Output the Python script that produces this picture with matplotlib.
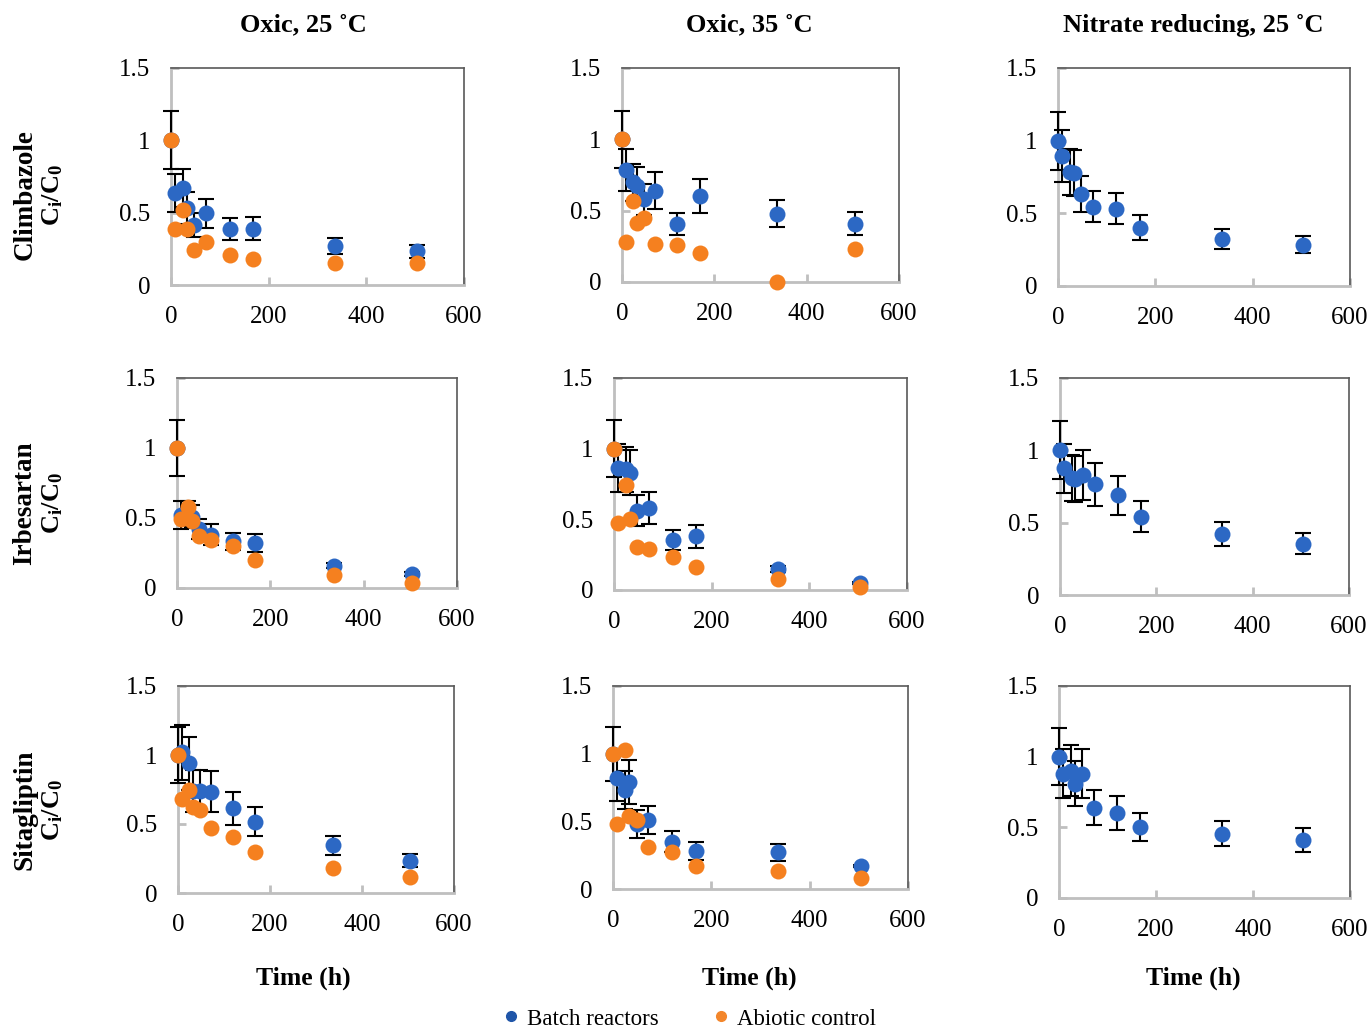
import matplotlib
matplotlib.use("Agg")
import matplotlib.pyplot as plt
from matplotlib.lines import Line2D
from matplotlib.ticker import FuncFormatter

plt.rcParams['font.family'] = ['Liberation Serif', 'DejaVu Serif']
plt.rcParams['mathtext.fontset'] = 'custom'
plt.rcParams['mathtext.rm'] = 'Liberation Serif'
plt.rcParams['mathtext.it'] = 'Liberation Serif:italic'
plt.rcParams['mathtext.bf'] = 'Liberation Serif:bold'

# ---------------- data ----------------
time_h = [0, 8, 24, 32, 48, 72, 120, 168, 336, 504]

col_titles = ["Oxic, 25 \u02daC", "Oxic, 35 \u02daC", "Nitrate reducing, 25 \u02daC"]
compounds = ["Climbazole", "Irbesartan", "Sitagliptin"]
x_ticks = [0, 200, 400, 600]
y_ticks = [0, 0.5, 1, 1.5]

# Climbazole
clim_o25_batch = [1.0, 0.635, 0.67, 0.535, 0.415, 0.496, 0.385, 0.39, 0.27, 0.233]
clim_o25_err = [0.2, 0.13, 0.13, 0.11, 0.085, 0.10, 0.075, 0.08, 0.055, 0.045]
clim_o25_abiotic = [1.0, 0.39, 0.52, 0.39, 0.24, 0.295, 0.21, 0.18, 0.15, 0.15]

clim_o35_batch = [1.0, 0.785, 0.70, 0.673, 0.58, 0.64, 0.407, 0.605, 0.48, 0.41]
clim_o35_err = [0.2, 0.15, 0.13, 0.13, 0.11, 0.13, 0.08, 0.12, 0.095, 0.08]
clim_o35_abiotic = [1.0, 0.283, 0.57, 0.416, 0.447, 0.264, 0.26, 0.20, 0.0, 0.23]

clim_nr_batch = [1.0, 0.896, 0.783, 0.776, 0.634, 0.547, 0.533, 0.402, 0.324, 0.283]
clim_nr_err = [0.2, 0.18, 0.16, 0.16, 0.125, 0.11, 0.107, 0.084, 0.068, 0.058]

# Irbesartan
irb_o25_batch = [1.0, 0.52, 0.53, 0.51, 0.42, 0.38, 0.335, 0.32, 0.16, 0.10]
irb_o25_err = [0.2, 0.1, 0.09, 0.08, 0.07, 0.075, 0.06, 0.065, 0.02, 0.015]
irb_o25_abiotic = [1.0, 0.493, 0.579, 0.476, 0.374, 0.345, 0.302, 0.198, 0.09, 0.036]

irb_o35_batch = [1.0, 0.865, 0.855, 0.83, 0.56, 0.58, 0.355, 0.38, 0.15, 0.05]
irb_o35_err = [0.2, 0.17, 0.16, 0.16, 0.11, 0.115, 0.07, 0.08, 0.02, 0.01]
irb_o35_abiotic = [1.0, 0.477, 0.744, 0.50, 0.307, 0.29, 0.232, 0.165, 0.078, 0.024]

irb_nr_batch = [1.0, 0.875, 0.81, 0.80, 0.83, 0.765, 0.69, 0.54, 0.42, 0.355]
irb_nr_err = [0.2, 0.17, 0.16, 0.16, 0.17, 0.15, 0.135, 0.107, 0.083, 0.072]

# Sitagliptin
sit_o25_batch = [1.0, 1.02, 0.94, 0.74, 0.74, 0.735, 0.615, 0.515, 0.345, 0.235]
sit_o25_err = [0.2, 0.2, 0.19, 0.15, 0.15, 0.15, 0.12, 0.105, 0.07, 0.05]
sit_o25_abiotic = [1.0, 0.68, 0.745, 0.625, 0.60, 0.474, 0.409, 0.30, 0.18, 0.116]

sit_o35_batch = [1.0, 0.82, 0.73, 0.79, 0.48, 0.51, 0.35, 0.28, 0.27, 0.17]
sit_o35_err = [0.2, 0.17, 0.14, 0.165, 0.105, 0.105, 0.08, 0.065, 0.06, 0.01]
sit_o35_abiotic = [1.0, 0.48, 1.03, 0.543, 0.51, 0.309, 0.27, 0.172, 0.135, 0.081]

sit_nr_batch = [1.0, 0.88, 0.90, 0.81, 0.88, 0.64, 0.60, 0.50, 0.455, 0.41]
sit_nr_err = [0.2, 0.175, 0.18, 0.16, 0.175, 0.125, 0.12, 0.10, 0.09, 0.083]

panels = [
    [(clim_o25_batch, clim_o25_err, clim_o25_abiotic),
     (clim_o35_batch, clim_o35_err, clim_o35_abiotic),
     (clim_nr_batch, clim_nr_err, None)],
    [(irb_o25_batch, irb_o25_err, irb_o25_abiotic),
     (irb_o35_batch, irb_o35_err, irb_o35_abiotic),
     (irb_nr_batch, irb_nr_err, None)],
    [(sit_o25_batch, sit_o25_err, sit_o25_abiotic),
     (sit_o35_batch, sit_o35_err, sit_o35_abiotic),
     (sit_nr_batch, sit_nr_err, None)],
]

# ---------------- layout / style ----------------
W, H = 1372, 1028
boxes = [
    [(171, 68, 464, 285), (622, 68, 899, 282), (1058, 68, 1350, 286)],
    [(177, 378, 457, 588), (614, 378, 907, 590), (1060, 378, 1349, 595)],
    [(178, 686, 454, 893), (613, 686, 908, 889), (1059, 686, 1350, 898)],
]
BLUE = '#2c68c4'
ORANGE = '#f5801f'
LIGHT = '#bfbfbf'
DARK = '#595959'

fig = plt.figure(figsize=(W / 100, H / 100), dpi=100)

for r in range(3):
    for c in range(3):
        x0, y0, x1, y1 = boxes[r][c]
        ax = fig.add_axes([x0 / W, 1 - y1 / H, (x1 - x0) / W, (y1 - y0) / H])
        batch, err, abiotic = panels[r][c]
        ax.errorbar(time_h, batch, yerr=err, fmt='none', ecolor='black',
                    elinewidth=1.5, capsize=5.5, capthick=1.5, zorder=2.6,
                    clip_on=False)
        ax.plot(time_h, batch, 'o', color=BLUE, markersize=11.5,
                markeredgewidth=0, zorder=3, clip_on=False)
        if abiotic is not None:
            ax.plot(time_h, abiotic, 'o', color=ORANGE, markersize=11.5,
                    markeredgewidth=0, zorder=4, clip_on=False)
        ax.set_xlim(0, 600)
        ax.set_ylim(0, 1.5)
        ax.set_xticks(x_ticks)
        ax.set_yticks(y_ticks)
        ax.yaxis.set_major_formatter(FuncFormatter(lambda v, p: f"{v:g}"))
        ax.tick_params(direction='in', length=6, width=2, color=LIGHT,
                       labelsize=18, pad=15)
        for s in ('left', 'bottom'):
            ax.spines[s].set_color(LIGHT)
            ax.spines[s].set_linewidth(2)
        for s in ('top', 'right'):
            ax.spines[s].set_color(DARK)
            ax.spines[s].set_linewidth(1.2)

# column titles and x labels
col_centers = [303, 749, 1193]
for cx, t in zip(col_centers, col_titles):
    fig.text(cx / W, 1 - 25 / H, t, ha='center', va='center',
             fontsize=19, fontweight='bold')
    fig.text(cx / W, 1 - 978 / H, "Time (h)", ha='center', va='center',
             fontsize=18.5, fontweight='bold')

# row labels
row_centers = [195, 503, 810]
for cy, name in zip(row_centers, compounds):
    fig.text(25 / W, 1 - cy / H, name, rotation=90, ha='center', va='center',
             fontsize=19.5, fontweight='bold')
    fig.text(53 / W, 1 - cy / H, r"$\mathbf{C_i/C_0}$", rotation=90,
             ha='center', va='center', fontsize=19)

# legend
handles = [Line2D([], [], ls='none', marker='o', color='#1f55a8', markersize=7),
           Line2D([], [], ls='none', marker='o', color='#f3862b', markersize=7)]
fig.legend(handles, ["Batch reactors", "Abiotic control"], loc='center',
           bbox_to_anchor=(688 / W, 1 - 1019 / H), ncol=2, frameon=False,
           fontsize=16.5, handletextpad=0.2, columnspacing=2.2,
           handlelength=1.0)

fig.savefig("out.png", dpi=100)
